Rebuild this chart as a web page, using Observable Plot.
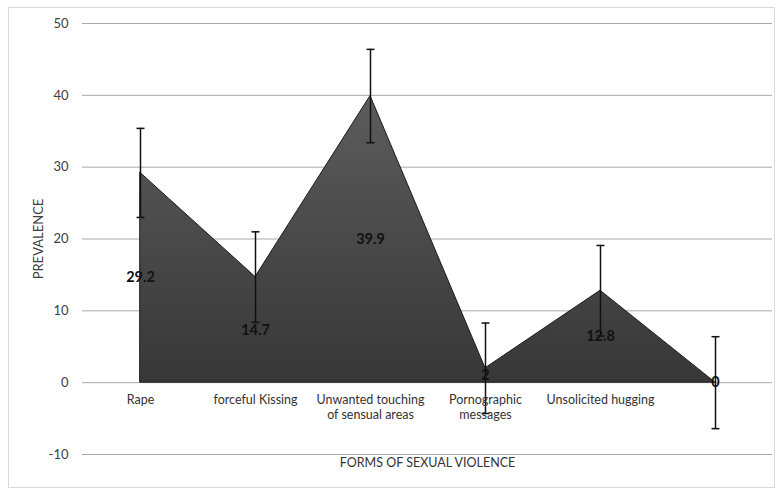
<!DOCTYPE html>
<html>
<head>
<meta charset="utf-8">
<script src="https://cdn.jsdelivr.net/npm/d3@7"></script>
<script src="https://cdn.jsdelivr.net/npm/@observablehq/plot@0.6"></script>
<style>
  body { margin: 0; background: #fff; }
  #chart { position: relative; width: 779px; height: 491px; }
  #chart .outline {
    position: absolute; left: 8px; top: 7px; width: 767px; height: 481px;
    border: 1px solid #d9d9d9; box-sizing: border-box; pointer-events: none;
  }
</style>
</head>
<body>
<div id="chart"><div class="outline"></div></div>
<script>
// Forms of sexual violence and their prevalence (%), with error margins
const categories = [
  "Rape",
  "forceful Kissing",
  "Unwanted touching\nof sensual areas",
  "Pornographic\nmessages",
  "Unsolicited hugging",
  " "
];
const prevalence = [29.2, 14.7, 39.9, 2, 12.8, 0];
const errorMargin = [6.2, 6.3, 6.5, 6.3, 6.3, 6.4];
const yTicks = [-10, 0, 10, 20, 30, 40, 50];

const data = categories.map((cat, i) => ({
  cat,
  value: prevalence[i],
  err: errorMargin[i]
}));

const font = "Lato, 'Open Sans', sans-serif";

// horizontal cap drawn at the ends of each error bar
const capSymbol = {
  draw(context) {
    context.moveTo(-4, 0);
    context.lineTo(4, 0);
  }
};

// vertical gradient used to fill the area
const gradientDefs = () => {
  const defs = d3.create("svg:defs");
  const g = defs.append("linearGradient")
    .attr("id", "areaFill")
    .attr("x1", 0).attr("y1", 0).attr("x2", 0).attr("y2", 1);
  g.append("stop").attr("offset", "0%").attr("stop-color", "#5c5c5c");
  g.append("stop").attr("offset", "100%").attr("stop-color", "#373737");
  return defs.node();
};

const chart = Plot.plot({
  width: 779,
  height: 491,
  marginLeft: 82,
  marginRight: 7,
  marginTop: 23,
  marginBottom: 37,
  style: { fontFamily: font, background: "transparent" },
  x: { type: "point", domain: categories, padding: 0.5, axis: null },
  y: { domain: [-10, 50], axis: null },
  marks: [
    gradientDefs,
    Plot.gridY(yTicks, { stroke: "#a8a8a8", strokeOpacity: 1, strokeWidth: 1 }),
    Plot.axisY(yTicks, {
      tickSize: 0, tickPadding: 14, fontSize: 13, fill: "#404040", label: null,
      tickFormat: d => String(d)
    }),
    Plot.text(["PREVALENCE"], {
      frameAnchor: "left", textAnchor: "middle", rotate: -90, dx: -44,
      fontSize: 13, fill: "#404040"
    }),
    Plot.areaY(data, {
      x: "cat", y: "value",
      fill: "url(#areaFill)", stroke: "#1c1c1c", strokeWidth: 1
    }),
    Plot.ruleX(data, {
      x: "cat",
      y1: d => d.value - d.err,
      y2: d => d.value + d.err,
      stroke: "#111", strokeWidth: 1.5
    }),
    Plot.dot(data, {
      x: "cat", y: d => d.value + d.err, symbol: capSymbol,
      stroke: "#111", strokeWidth: 1.5, fill: "none"
    }),
    Plot.dot(data, {
      x: "cat", y: d => d.value - d.err, symbol: capSymbol,
      stroke: "#111", strokeWidth: 1.5, fill: "none"
    }),
    // value labels, centred within the filled area
    Plot.text(data, {
      x: "cat", y: d => d.value / 2, text: d => String(d.value),
      fontSize: 14.5, fontWeight: "bold", fill: "#111"
    }),
    // category labels along the zero line
    Plot.text(data, {
      x: "cat", y: () => 0, text: "cat",
      lineAnchor: "top", dy: 11, lineHeight: 1.2,
      fontSize: 12.5, fill: "#333"
    }),
    Plot.text(["FORMS OF SEXUAL VIOLENCE"], {
      frameAnchor: "bottom", dy: 12, fontSize: 12.5, fill: "#333"
    })
  ]
});

document.getElementById("chart").appendChild(chart);
</script>
</body>
</html>
